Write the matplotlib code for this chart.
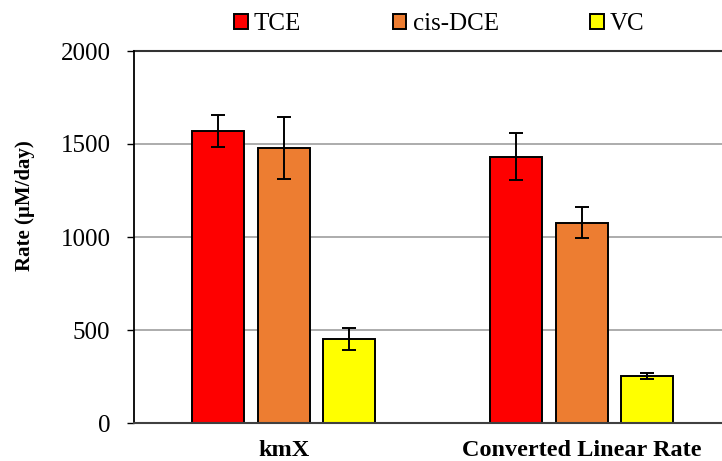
import matplotlib
matplotlib.use("Agg")
import matplotlib.pyplot as plt
from matplotlib.patches import Patch
import numpy as np

categories = ["kmX", "Converted Linear Rate"]
series_names = ["TCE", "cis-DCE", "VC"]
tce = [1570, 1432]
tce_err = [88, 126]
cis_dce = [1477, 1077]
cis_dce_err = [166, 83]
vc = [450, 251]
vc_err = [60, 16]
colors = ["#fe0000", "#ed7d31", "#ffff00"]

plt.rcParams['font.family'] = ['Liberation Serif', 'DejaVu Serif']

W, H = 722, 461
fig = plt.figure(figsize=(W / 100, H / 100), dpi=100)
ax = fig.add_axes([134 / W, 1 - 423 / H, 1 - 134 / W, 372 / H])

x = np.arange(len(categories))
offsets = [-0.22, 0.0, 0.22]
width = 0.1745
values = [tce, cis_dce, vc]
errs = [tce_err, cis_dce_err, vc_err]

for grid_y in [500, 1000, 1500]:
    ax.axhline(grid_y, color="#a6a6a6", lw=1.3, zorder=0)
ax.axhline(2000, color="#333333", lw=1.5, zorder=0, clip_on=False)

for vals, err, off, col, name in zip(values, errs, offsets, colors, series_names):
    ax.bar(x + off, vals, width, color=col, edgecolor="black", linewidth=1.4,
           label=name, zorder=2,
           yerr=err, error_kw=dict(ecolor="black", elinewidth=1.4, capsize=5, capthick=1.4, zorder=3))

ax.set_xlim(-0.503, 1.47)
ax.set_ylim(0, 2000)
ax.set_yticks([0, 500, 1000, 1500, 2000])
ax.tick_params(axis='y', labelsize=18, length=5, width=1, pad=12, direction='out', colors='black')
ax.set_xticks(x)
ax.set_xticklabels(categories, fontsize=17.5, fontweight='bold')
ax.tick_params(axis='x', length=0, pad=12)

for s in ["top", "right"]:
    ax.spines[s].set_visible(False)
ax.spines["left"].set_color("black")
ax.spines["left"].set_linewidth(1.3)
ax.spines["bottom"].set_color("#404040")
ax.spines["bottom"].set_linewidth(1.5)

fig.text(25 / W, 1 - 206 / H, "Rate (µM/day)", rotation=90, ha="center", va="center",
         fontsize=15, fontweight="bold")

handles = [Patch(facecolor=c, edgecolor="black", linewidth=1.4) for c in colors]
fig.legend(handles, series_names, loc="center left", bbox_to_anchor=(234 / W, 1 - 24 / H),
           ncol=3, frameon=False, fontsize=18, handlelength=0.55, handleheight=0.55,
           handletextpad=0.25, columnspacing=3.65, borderpad=0, borderaxespad=0)

fig.savefig("out.png", dpi=100)
